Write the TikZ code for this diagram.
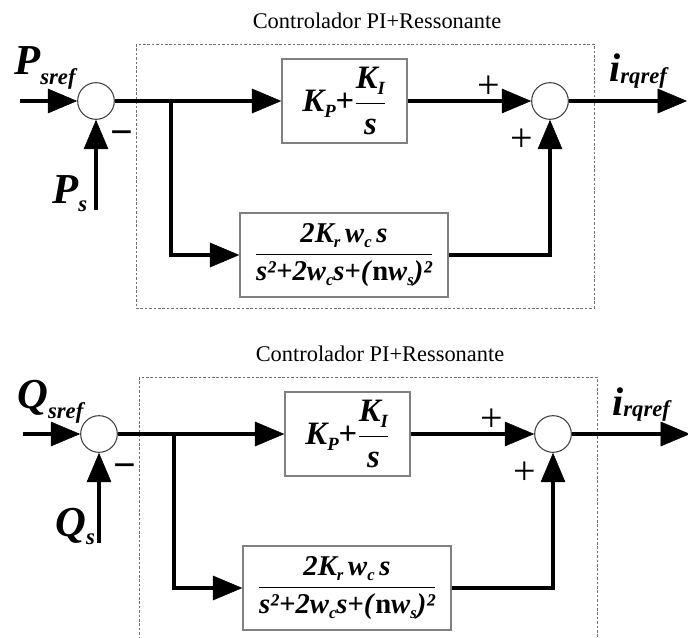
\documentclass[tikz,border=0pt]{standalone}
\usepackage{fontspec}
\setmainfont{Liberation Serif}
\usetikzlibrary{arrows.meta}
\newcommand\bi{\bfseries\itshape}
\newcommand\dn[3]{\raisebox{-#1}{\fontsize{#2}{#2}\selectfont #3}}
\begin{document}
\begin{tikzpicture}[x=0.75pt,y=-0.75pt,
  sig/.style={line width=3.7pt,-{Triangle[length=22pt,width=18.5pt,line width=0.4pt]}},
  sumnode/.style={circle,draw=black!75,line width=0.8pt,fill=white,minimum size=27.5pt,inner sep=0pt},
  blk/.style={draw=black!50,line width=1.1pt,inner sep=0pt,fill=white},
  frame/.style={draw=black!55,line width=0.7pt,dash pattern=on 2pt off 1.3pt},
  ttl/.style={font=\fontsize{16.8}{18}\selectfont,inner sep=0pt},
  sgn/.style={font=\fontsize{30}{30}\selectfont,inner sep=0pt},
  lbl/.style={inner sep=0pt,anchor=base west}]
\useasboundingbox (0,0) rectangle (688,638);
\clip (0,0) rectangle (688,638);
\foreach \dx/\dy/\L/\pf in {0/0/P/a,3/333/Q/b}{
\begin{scope}[shift={(\dx,\dy)},name prefix=\pf-]
  \node[ttl] (title) at (377,21) {Controlador PI+Ressonante};
  \draw[frame] (136,44) rectangle (594,308);
  \node[sumnode] (s1) at (96,101) {};
  \node[sumnode] (s2) at (550,101) {};
  \node[blk,minimum width=93.75pt,minimum height=63pt] (pi) at (344.5,101)
    {\fontsize{24.5}{24.5}\selectfont\bi K\dn{4.5pt}{14pt}{P}\textup{+}$\displaystyle\frac{\hbox{\bi K\dn{4.5pt}{14pt}{I}}}{\hbox{\bi s}}$};
  \node[blk,minimum width=156pt,minimum height=63pt] (res) at (344,255)
    {\fontsize{21.5}{21.5}\selectfont$\displaystyle\frac{\hbox{\bi 2K\dn{4pt}{12.5pt}{r}\,w\dn{4pt}{12.5pt}{c}\,s}}{\hbox{\bi s²\textup{+}2w\dn{4pt}{12.5pt}{c}s\textup{+}(\textup{n}w\dn{4pt}{12.5pt}{s})²}}$};
  \coordinate (in) at (20,101);
  \coordinate (fb) at (96,210);
  \coordinate (br) at (171,101);
  \coordinate (out) at (687,101);
  \draw[sig] (in) -- (s1.west);
  \draw[sig] (fb) -- (s1.south);
  \draw[sig] (s1.east) -- (pi.west);
  \draw[sig] (br) |- (res.west);
  \draw[sig] (pi.east) -- (s2.west);
  \draw[sig] (res.east) -| (s2.south);
  \draw[sig] (s2.east) -- (out);
  \node[lbl] (lin) at (14,75) {\fontsize{32}{32}\selectfont\bi \L\dn{7.5pt}{17pt}{sref}};
  \node[lbl] (lfb) at (52,203) {\fontsize{32}{32}\selectfont\bi \L\dn{6pt}{17pt}{s}};
  \node[lbl] (lout) at (609,82) {\fontsize{30}{30}\selectfont\bi i\dn{1pt}{17pt}{rqref}};
  \node[sgn] (minus) at (122,138) {\bfseries −};
  \node[sgn] (p1) at (489,87) {+};
  \node[sgn] (p2) at (522,140) {+};
\end{scope}}
\end{tikzpicture}
\end{document}
